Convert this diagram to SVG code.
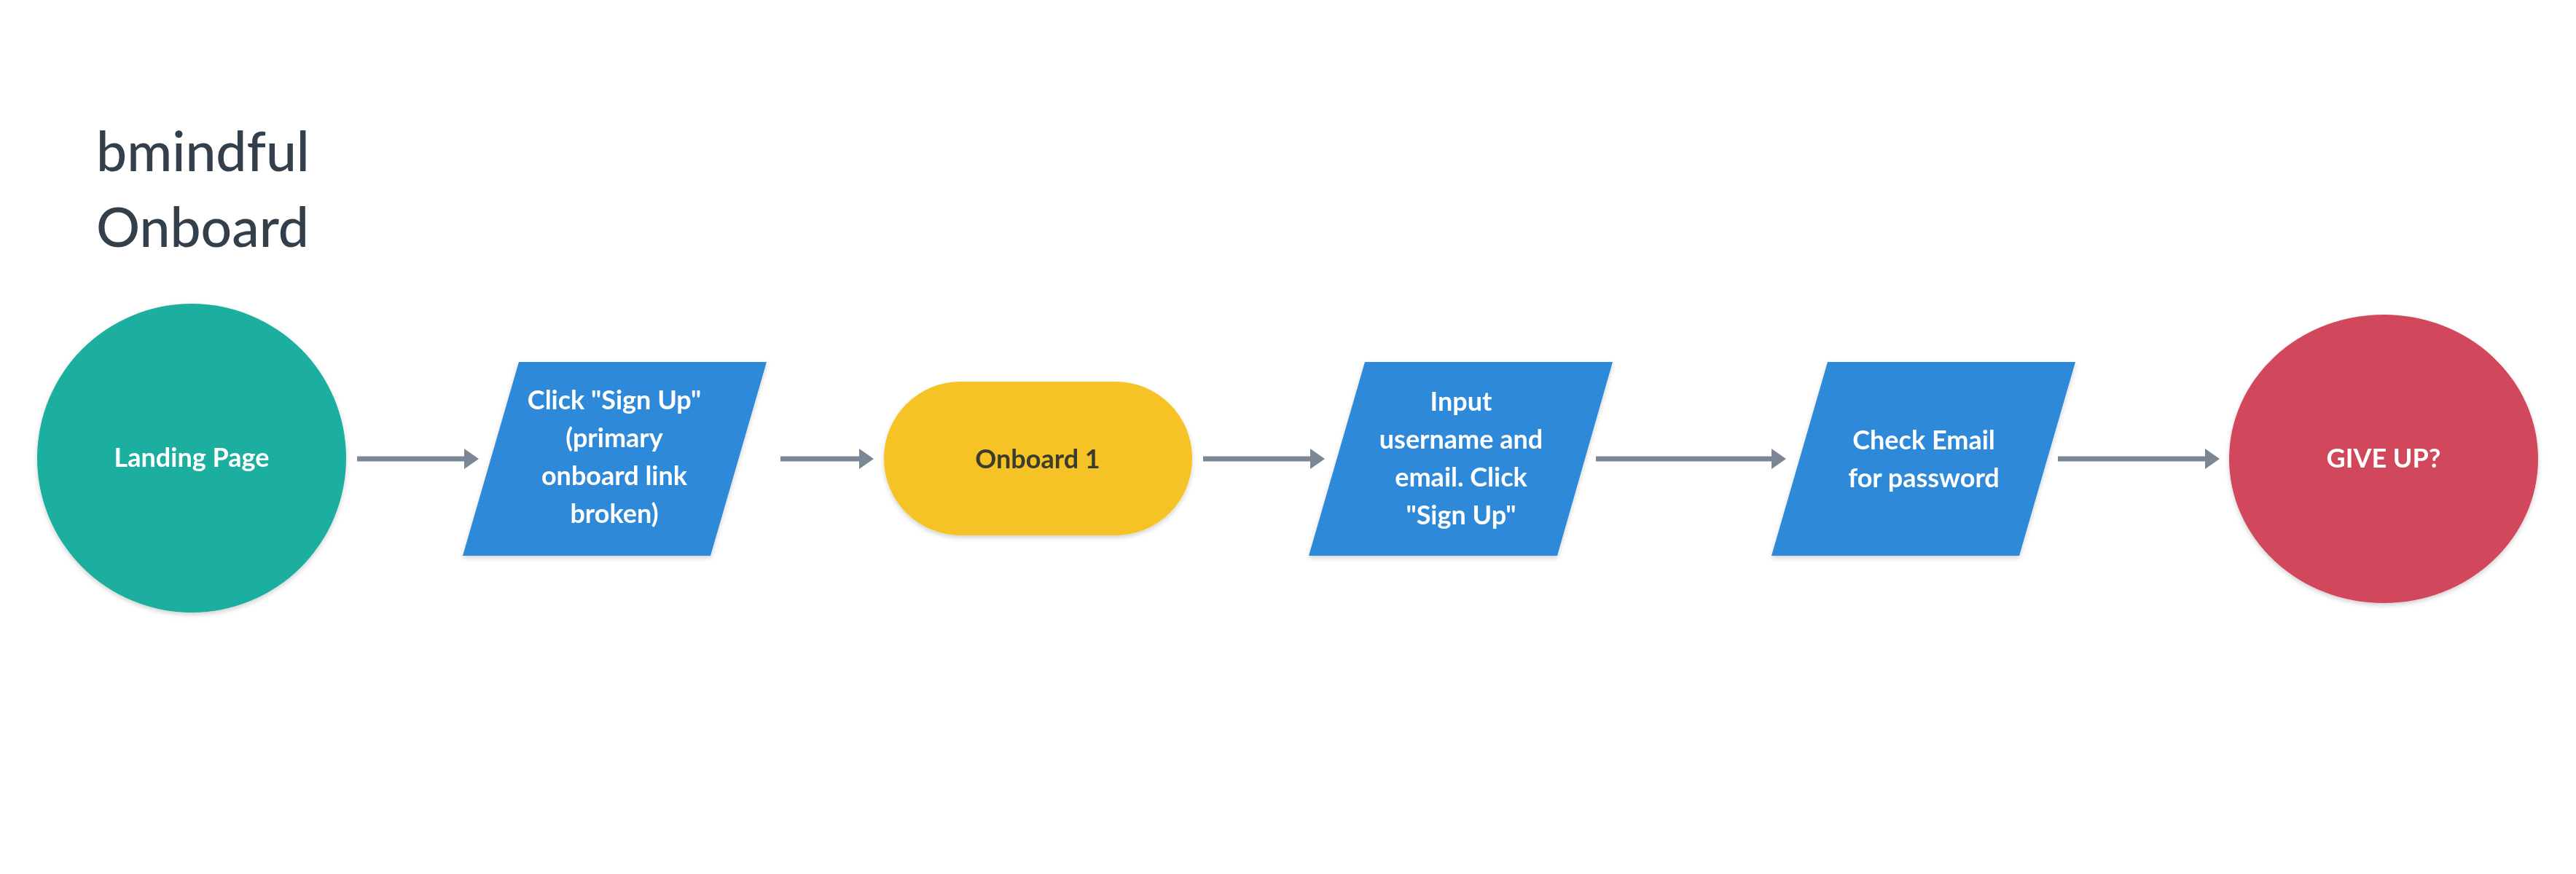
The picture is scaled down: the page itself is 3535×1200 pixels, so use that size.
<svg xmlns="http://www.w3.org/2000/svg" width="3535" height="1200" viewBox="0 0 3535 1200">
<style>
.title{font-family:Lato,"Open Sans","Liberation Sans",sans-serif;font-size:75px;font-weight:500;fill:#333f4b;}
.lbl{font-family:Lato,"Open Sans","Liberation Sans",sans-serif;font-size:36px;font-weight:700;text-anchor:middle;fill:#ffffff;}
.dark{fill:#3b3b2e;}
.conn{stroke:#7b8794;stroke-width:7;fill:none;marker-end:url(#arr);}
.teal{fill:#1bae9f;}
.blue{fill:#2e89d9;}
.yellow{fill:#f6c325;}
.red{fill:#d1465b;}
</style>
<defs>
<marker id="arr" markerUnits="userSpaceOnUse" markerWidth="22" markerHeight="30" refX="0" refY="14" orient="auto" viewBox="0 0 22 28">
<path d="M0,0 L20,14 L0,28 z" fill="#7b8794"/>
</marker>
<filter id="sh" x="-10%" y="-10%" width="120%" height="125%">
<feDropShadow dx="0" dy="3" stdDeviation="3" flood-color="#000" flood-opacity="0.18"/>
</filter>
</defs>
<rect width="3535" height="1200" fill="#ffffff"/>
<g id="title">
<text class="title" x="132" y="235">bmindful</text>
<text class="title" x="132" y="339">Onboard</text>
</g>
<g id="connectors">
<line class="conn" x1="490" y1="630" x2="637" y2="630"/>
<line class="conn" x1="1071" y1="630" x2="1179" y2="630"/>
<line class="conn" x1="1651" y1="630" x2="1798" y2="630"/>
<line class="conn" x1="2190" y1="630" x2="2431" y2="630"/>
<line class="conn" x1="2824" y1="630" x2="3026" y2="630"/>
</g>
<g id="landing-page" filter="url(#sh)">
<circle class="teal" cx="263" cy="629" r="212"/>
<text class="lbl" x="263" y="641">Landing Page</text>
</g>
<g id="click-sign-up" filter="url(#sh)">
<polygon class="blue" points="712,497 1052,497 975,763 635,763"/>
<text class="lbl" x="843" y="562">Click &quot;Sign Up&quot;</text>
<text class="lbl" x="843" y="614">(primary</text>
<text class="lbl" x="843" y="666">onboard link</text>
<text class="lbl" x="843" y="718">broken)</text>
</g>
<g id="onboard-1" filter="url(#sh)">
<rect class="yellow" x="1213" y="524" width="423" height="211" rx="105" ry="105"/>
<text class="lbl dark" x="1424" y="643">Onboard 1</text>
</g>
<g id="input-username" filter="url(#sh)">
<polygon class="blue" points="1873,497 2213,497 2137,763 1796,763"/>
<text class="lbl" x="2005" y="564">Input</text>
<text class="lbl" x="2005" y="616">username and</text>
<text class="lbl" x="2005" y="668">email. Click</text>
<text class="lbl" x="2005" y="720">&quot;Sign Up&quot;</text>
</g>
<g id="check-email" filter="url(#sh)">
<polygon class="blue" points="2508,497 2848,497 2771,763 2431,763"/>
<text class="lbl" x="2640" y="617">Check Email</text>
<text class="lbl" x="2640" y="669">for password</text>
</g>
<g id="give-up" filter="url(#sh)">
<ellipse class="red" cx="3271" cy="630" rx="212" ry="198"/>
<text class="lbl" x="3271" y="642">GIVE UP?</text>
</g>
</svg>
